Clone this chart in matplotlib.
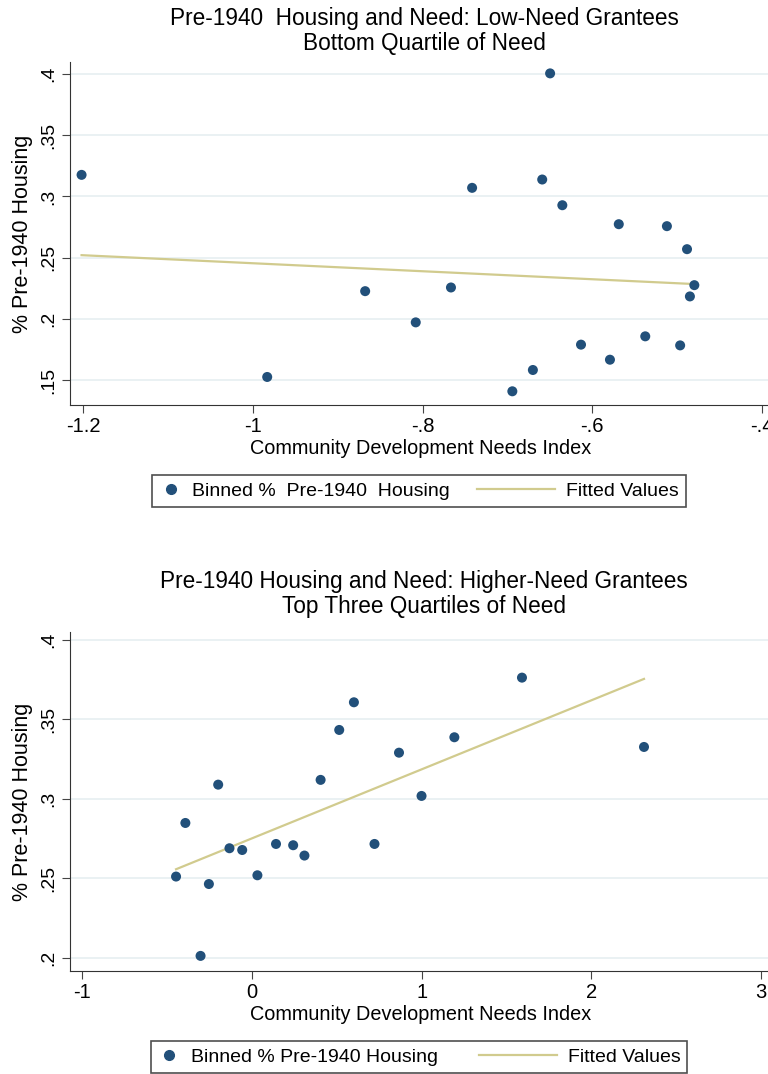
import numpy as np
import matplotlib.pyplot as plt
from matplotlib.lines import Line2D
from matplotlib.legend_handler import HandlerLine2D

# panel 1: low-need grantees
low_x = [-1.2017, -0.983, -0.8676, -0.808, -0.7665, -0.7416, -0.6942, -0.670,
         -0.659, -0.6497, -0.6353, -0.6133, -0.5792, -0.5688, -0.5376, -0.5121,
         -0.4965, -0.4884, -0.485, -0.4798]
low_y = [0.3176, 0.1525, 0.2226, 0.1971, 0.2256, 0.307, 0.1408, 0.1582,
         0.3138, 0.4005, 0.2928, 0.1789, 0.1666, 0.2773, 0.1857, 0.2757,
         0.1783, 0.2569, 0.2183, 0.2275]
low_fit_x = [-1.2017, -0.4798]
low_fit_y = [0.2520, 0.2284]

# panel 2: higher-need grantees
high_x = [-0.4476, -0.3927, -0.3032, -0.2541, -0.1993, -0.1328, -0.0578, 0.0318,
          0.1415, 0.2426, 0.309, 0.4043, 0.514, 0.6006, 0.7219, 0.8663,
          0.9991, 1.1926, 1.5911, 2.3102]
high_y = [0.2512, 0.2849, 0.2013, 0.2465, 0.309, 0.269, 0.2679, 0.252,
          0.2717, 0.2709, 0.2644, 0.312, 0.3434, 0.3608, 0.2717, 0.3291,
          0.3019, 0.3388, 0.3763, 0.3327]
high_fit_x = [-0.4476, 2.3102]
high_fit_y = [0.2558, 0.3755]

navy = '#22507a'
khaki = '#d1cb8e'
gridc = '#e6eff1'
fam = ['Liberation Sans', 'DejaVu Sans']

W, H = 768, 1074
fig = plt.figure(figsize=(W/100, H/100), dpi=100)


class LongLine(HandlerLine2D):
    # line handle reaching left into the column gap, like the Stata legend
    def create_artists(self, legend, orig_handle, xdescent, ydescent, width,
                       height, fontsize, trans):
        arts = super().create_artists(legend, orig_handle, xdescent, ydescent,
                                      width, height, fontsize, trans)
        yc = (height - ydescent) / 2
        arts[0].set_data([-xdescent - 2.4*width, -xdescent + 0.95*width], [yc, yc])
        return arts


def panel(top, bottom, xs, ys, fx, fy, xlim, ylim, xticks, xlabs, yticks, ylabs,
          title, leg_label, title_y, xlab_y, leg_y, colsp):
    left, right = 69.6, 768
    ax = fig.add_axes([left/W, 1-bottom/H, (right-left)/W, (bottom-top)/H])
    for y in yticks:
        ax.axhline(y, color=gridc, lw=1.2, zorder=0)
    ax.plot(fx, fy, color=khaki, lw=1.6, zorder=2)
    ax.scatter(xs, ys, s=52, color=navy, edgecolors='none', zorder=3)
    ax.set_xlim(xlim)
    ax.set_ylim(ylim)
    ax.spines['top'].set_visible(False)
    ax.spines['right'].set_visible(False)
    ax.spines['left'].set_color('#333333')
    ax.spines['bottom'].set_color('#333333')
    ax.set_xticks(xticks)
    ax.set_xticklabels(xlabs, fontfamily=fam, fontsize=14.5)
    ax.set_yticks(yticks)
    ax.set_yticklabels(ylabs, fontfamily=fam, fontsize=14, rotation=90, va='center')
    ax.tick_params(direction='out', length=6, color='#444444', pad=3)
    ax.set_ylabel('% Pre-1940 Housing', fontfamily=fam, fontsize=15.5, labelpad=5)
    fig.text(424/W, 1 - title_y/H, title, ha='center', va='center',
             fontfamily=fam, fontsize=16.3, linespacing=1.15)
    fig.text(421/W, 1 - xlab_y/H, 'Community Development Needs Index',
             ha='center', va='center', fontfamily=fam, fontsize=14.3)
    h_dot = Line2D([], [], ls='none', marker='o', ms=7, color=navy)
    h_fit = Line2D([], [], color=khaki, lw=1.6)
    leg = fig.legend([h_dot, h_fit], [leg_label, 'Fitted Values'], ncol=2,
                     loc='center', bbox_to_anchor=(419/W, 1 - leg_y/H),
                     prop={'family': fam, 'size': 14}, frameon=True,
                     fancybox=False, edgecolor='#222222', handlelength=1.2,
                     columnspacing=colsp, handletextpad=0.5, borderpad=0.35,
                     borderaxespad=0, handler_map={h_fit: LongLine()})
    leg.get_frame().set_linewidth(1.2)
    return ax


panel(62, 405, low_x, low_y, low_fit_x, low_fit_y,
      (-1.2158, -0.393), (0.1296, 0.4098),
      [-1.2, -1.0, -0.8, -0.6, -0.4], ['-1.2', '-1', '-.8', '-.6', '-.4'],
      [0.15, 0.2, 0.25, 0.3, 0.35, 0.4], ['.15', '.2', '.25', '.3', '.35', '.4'],
      'Pre-1940  Housing and Need: Low-Need Grantees\nBottom Quartile of Need',
      'Binned %  Pre-1940  Housing', 31, 449, 491, 4.3)

panel(632, 971, high_x, high_y, high_fit_x, high_fit_y,
      (-1.075, 3.041), (0.1918, 0.405),
      [-1, 0, 1, 2, 3], ['-1', '0', '1', '2', '3'],
      [0.2, 0.25, 0.3, 0.35, 0.4], ['.2', '.25', '.3', '.35', '.4'],
      'Pre-1940 Housing and Need: Higher-Need Grantees\nTop Three Quartiles of Need',
      'Binned % Pre-1940 Housing', 594, 1015, 1057, 5.0)

fig.savefig('out.png', dpi=100)
